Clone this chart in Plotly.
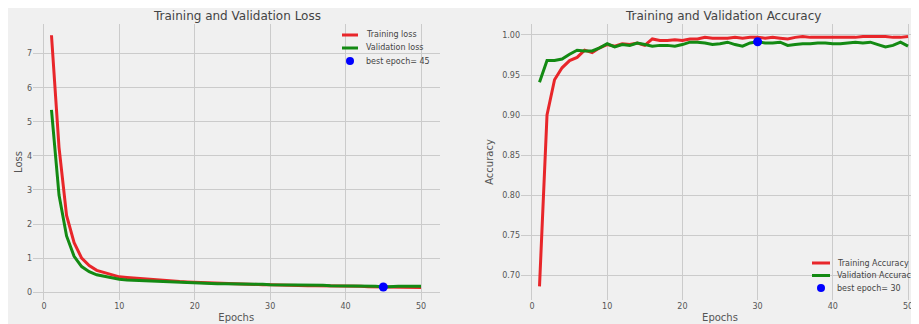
import plotly.graph_objects as go

epochs = list(range(1, 51))

train_loss = [7.54, 4.25, 2.25, 1.45, 1.00, 0.78, 0.64, 0.57, 0.51, 0.45,
              0.43, 0.41, 0.39, 0.37, 0.35, 0.33, 0.32, 0.31, 0.30, 0.29,
              0.28, 0.27, 0.26, 0.25, 0.25, 0.24, 0.24, 0.23, 0.22, 0.22,
              0.21, 0.21, 0.20, 0.20, 0.19, 0.19, 0.19, 0.18, 0.18, 0.17,
              0.17, 0.17, 0.16, 0.16, 0.16, 0.15, 0.15, 0.15, 0.15, 0.14]
val_loss = [5.35, 2.85, 1.65, 1.05, 0.75, 0.60, 0.51, 0.46, 0.41, 0.38,
            0.36, 0.35, 0.34, 0.32, 0.31, 0.30, 0.29, 0.29, 0.28, 0.28,
            0.27, 0.26, 0.25, 0.25, 0.25, 0.24, 0.24, 0.24, 0.23, 0.22,
            0.22, 0.22, 0.21, 0.21, 0.21, 0.20, 0.20, 0.19, 0.19, 0.19,
            0.18, 0.18, 0.18, 0.17, 0.15, 0.17, 0.17, 0.17, 0.17, 0.17]
train_acc = [0.686, 0.900, 0.944, 0.959, 0.968, 0.972, 0.981, 0.978, 0.984, 0.988,
             0.986, 0.989, 0.988, 0.990, 0.987, 0.995, 0.993, 0.993, 0.994, 0.993,
             0.995, 0.995, 0.997, 0.996, 0.996, 0.996, 0.997, 0.996, 0.997, 0.997,
             0.996, 0.997, 0.996, 0.995, 0.997, 0.998, 0.997, 0.997, 0.997, 0.997,
             0.997, 0.997, 0.997, 0.998, 0.998, 0.998, 0.998, 0.997, 0.997, 0.998]
val_acc = [0.941, 0.968, 0.968, 0.970, 0.976, 0.981, 0.980, 0.980, 0.984, 0.989,
           0.985, 0.988, 0.987, 0.990, 0.988, 0.986, 0.987, 0.987, 0.986, 0.988,
           0.991, 0.991, 0.990, 0.988, 0.989, 0.991, 0.988, 0.986, 0.990, 0.9915,
           0.990, 0.990, 0.991, 0.987, 0.988, 0.989, 0.989, 0.990, 0.990, 0.989,
           0.989, 0.990, 0.991, 0.990, 0.991, 0.988, 0.985, 0.987, 0.991, 0.986]

loss_best_epoch = 45
acc_best_epoch = 30

loss_legend_labels = ["Training loss", "Validation loss", "best epoch= %d" % loss_best_epoch]
acc_legend_labels = ["Training Accuracy", "Validation Accuracy", "best epoch= %d" % acc_best_epoch]

BG = "#f0f0f0"
GRID = "#cbcbcb"
RED = "#e8262a"
GREEN = "#138a13"
BLUE = "#0000ff"
FONT = "DejaVu Sans"
TXT = "#555555"
TXT2 = "#444444"

# The page body adds an 8px offset; figure is sized to fit the window from there.
OFF = 8
W, H = 919 - OFF, 324 - OFF
ML, MR, MT, MB = 25, 0, 16, 24
PW = W - ML - MR
PH = H - MT - MB


def fx(p):  # page x pixel -> paper fraction
    return (p - OFF - ML) / PW


def fy(p):  # page y pixel -> paper fraction
    return 1 - (p - OFF - MT) / PH


fig = go.Figure()

fig.add_trace(go.Scatter(x=epochs, y=train_loss, mode="lines", name=loss_legend_labels[0],
                         line=dict(color=RED, width=3), xaxis="x", yaxis="y"))
fig.add_trace(go.Scatter(x=epochs, y=val_loss, mode="lines", name=loss_legend_labels[1],
                         line=dict(color=GREEN, width=3), xaxis="x", yaxis="y"))
fig.add_trace(go.Scatter(x=[loss_best_epoch], y=[val_loss[loss_best_epoch - 1]], mode="markers",
                         name=loss_legend_labels[2],
                         marker=dict(color=BLUE, size=9), xaxis="x", yaxis="y"))

fig.add_trace(go.Scatter(x=epochs, y=train_acc, mode="lines", name=acc_legend_labels[0],
                         line=dict(color=RED, width=3), xaxis="x2", yaxis="y2"))
fig.add_trace(go.Scatter(x=epochs, y=val_acc, mode="lines", name=acc_legend_labels[1],
                         line=dict(color=GREEN, width=3), xaxis="x2", yaxis="y2"))
fig.add_trace(go.Scatter(x=[acc_best_epoch], y=[val_acc[acc_best_epoch - 1]], mode="markers",
                         name=acc_legend_labels[2],
                         marker=dict(color=BLUE, size=9), xaxis="x2", yaxis="y2"))

axis_common = dict(showgrid=True, gridcolor=GRID, gridwidth=1, zeroline=False, showline=False,
                   ticks="", tickfont=dict(family=FONT, size=8, color=TXT), automargin=False)

fig.update_layout(
    width=W, height=H,
    margin=dict(l=ML, r=MR, t=MT, b=MB),
    paper_bgcolor=BG,
    plot_bgcolor=BG,
    font=dict(family=FONT, color=TXT),
    showlegend=False,
    xaxis=dict(domain=[0, fx(439.5)], range=[-1.45, 52.45], tickvals=[0, 10, 20, 30, 40, 50],
               title=dict(text="Epochs", font=dict(size=10, color=TXT), standoff=3), anchor="y",
               **axis_common),
    yaxis=dict(domain=[0, 1], range=[-0.23, 7.87], tickvals=list(range(0, 8)),
               title=dict(text="Loss", font=dict(size=10, color=TXT), standoff=2), anchor="x",
               **axis_common),
    xaxis2=dict(domain=[fx(521), 1], range=[-1.46, 51.46], tickvals=[0, 10, 20, 30, 40, 50],
                title=dict(text="Epochs", font=dict(size=10, color=TXT), standoff=3), anchor="y2",
                **axis_common),
    yaxis2=dict(domain=[0, 1], range=[0.669, 1.0137],
                tickvals=[0.70, 0.75, 0.80, 0.85, 0.90, 0.95, 1.00], tickformat=".2f",
                title=dict(text="Accuracy", font=dict(size=10, color=TXT), standoff=6), anchor="x2",
                **axis_common),
)

# titles
fig.add_annotation(text="Training and Validation Loss", x=fx(237), y=fy(16),
                   xref="paper", yref="paper", showarrow=False, xanchor="center", yanchor="middle",
                   font=dict(family=FONT, size=12, color=TXT2))
fig.add_annotation(text="Training and Validation Accuracy", x=fx(723), y=fy(16),
                   xref="paper", yref="paper", showarrow=False, xanchor="center", yanchor="middle",
                   font=dict(family=FONT, size=12, color=TXT2))


# hand-drawn compact legends (matplotlib-like spacing)
def add_legend(labels, x_line0, x_line1, x_text, ys):
    colors = [RED, GREEN]
    for i in range(2):
        fig.add_shape(type="line", xref="paper", yref="paper",
                      x0=fx(x_line0), x1=fx(x_line1), y0=fy(ys[i]), y1=fy(ys[i]),
                      line=dict(color=colors[i], width=3))
    cx = (x_line0 + x_line1) / 2
    r = 4
    fig.add_shape(type="circle", xref="paper", yref="paper",
                  x0=fx(cx - r), x1=fx(cx + r), y0=fy(ys[2] + r), y1=fy(ys[2] - r),
                  fillcolor=BLUE, line=dict(width=0))
    for i, lab in enumerate(labels):
        fig.add_annotation(text=lab, x=fx(x_text), y=fy(ys[i]), xref="paper", yref="paper",
                           showarrow=False, xanchor="left", yanchor="middle",
                           font=dict(family=FONT, size=8, color=TXT2))


add_legend(loss_legend_labels, 342, 358, 364, [35, 48, 61])
add_legend(acc_legend_labels, 812, 830, 835, [263, 275.5, 288])

fig.write_html("out.html")
